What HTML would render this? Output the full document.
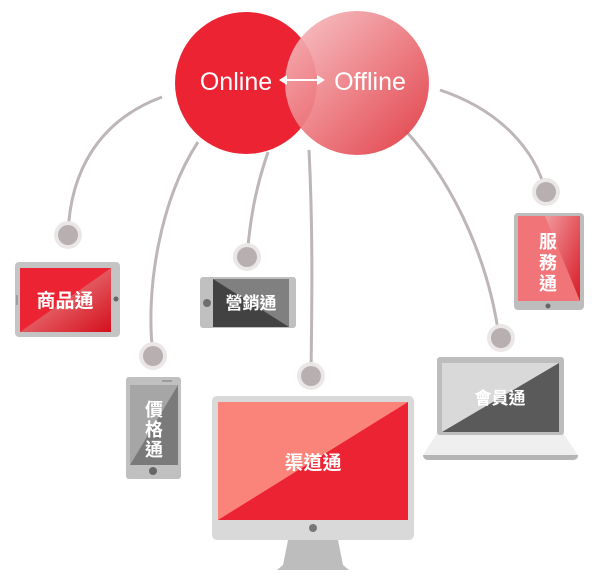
<!DOCTYPE html>
<html><head><meta charset="utf-8"><style>
html,body{margin:0;padding:0;background:#fff;width:600px;height:581px;overflow:hidden}
svg{display:block}
text{font-family:"Liberation Sans","Noto Sans CJK TC",sans-serif;font-weight:bold;fill:#fff}
</style></head><body>
<svg width="600" height="581" viewBox="0 0 600 581" xmlns="http://www.w3.org/2000/svg">
<defs>
<linearGradient id="off" x1="0" y1="0" x2="1" y2="1">
<stop offset="0" stop-color="#f7c3c5"/><stop offset="1" stop-color="#e0303a"/>
</linearGradient>
<linearGradient id="tabR" x1="0" y1="0" x2="1" y2="1">
<stop offset="0" stop-color="#f29ea2"/><stop offset="1" stop-color="#d4101c"/>
</linearGradient>
</defs>
<g fill="none" stroke="#bdb6b6" stroke-width="3">
<path d="M162 97 C100 120 70 170 68 235"/>
<path d="M198 142 C160 200 145 290 153 355"/>
<path d="M268 152 C255 190 250 220 247 257"/>
<path d="M309 150 C313 230 312 300 311 375"/>
<path d="M405 130 C460 190 490 270 499 337"/>
<path d="M440 90 C500 110 535 150 545 190"/>
</g>
<g>
<circle cx="68" cy="235" r="14" fill="#ebe7e7"/><circle cx="68" cy="235" r="10" fill="#b8b0b0"/>
<circle cx="153" cy="356" r="14" fill="#ebe7e7"/><circle cx="153" cy="356" r="10" fill="#b8b0b0"/>
<circle cx="247" cy="257" r="14" fill="#ebe7e7"/><circle cx="247" cy="257" r="10" fill="#b8b0b0"/>
<circle cx="311" cy="376" r="14" fill="#ebe7e7"/><circle cx="311" cy="376" r="10" fill="#b8b0b0"/>
<circle cx="501" cy="338" r="14" fill="#ebe7e7"/><circle cx="501" cy="338" r="10" fill="#b8b0b0"/>
<circle cx="546" cy="192" r="14" fill="#ebe7e7"/><circle cx="546" cy="192" r="10" fill="#b8b0b0"/>
</g>
<!-- circles -->
<circle cx="246" cy="83" r="71" fill="#ec2333"/>
<circle cx="357" cy="83" r="72" fill="url(#off)" opacity="0.92"/>
<text x="236" y="90" font-size="25" font-weight="normal" text-anchor="middle" style="font-weight:normal">Online</text>
<text x="370" y="90" font-size="25" text-anchor="middle" style="font-weight:normal">Offline</text>
<g stroke="#fff" stroke-width="2" fill="#fff">
<line x1="284" y1="80" x2="320" y2="80"/>
<path d="M279 80 L287 75 L287 85Z" stroke="none"/><path d="M325 80 L317 75 L317 85Z" stroke="none"/>
</g>
<!-- tablet landscape 商品通 -->
<rect x="15" y="262" width="105" height="75" rx="4" fill="#c4c4c4"/>
<path d="M20 268 H111 V332 H20Z" fill="#ec2333"/>
<path d="M111 268 V332 H20Z" fill="url(#tabR)"/>
<circle cx="116" cy="299" r="2.5" fill="#666"/>
<line x1="17" y1="295" x2="17" y2="305" stroke="#777"/>
<text x="65" y="307" font-size="19" text-anchor="middle">商品通</text>
<!-- phone landscape 營銷通 -->
<rect x="200" y="277" width="96" height="51" rx="3" fill="#c0c0c0"/>
<rect x="213" y="279" width="76" height="48" fill="#808080"/>
<path d="M213 279 L289 327 H213Z" fill="#424242"/>
<circle cx="207" cy="303" r="4" fill="#6e6e6e"/>
<text x="251" y="309" font-size="17" text-anchor="middle">營銷通</text>
<!-- phone portrait 價格通 -->
<rect x="126" y="377" width="55" height="102" rx="3" fill="#c0c0c0"/>
<rect x="130" y="385" width="48" height="80" fill="#7a7a7a"/>
<path d="M130 385 H178 L130 465Z" fill="#a6a6a6"/>
<circle cx="153" cy="471" r="4" fill="#666"/>
<line x1="162" y1="381" x2="172" y2="381" stroke="#777"/>
<text x="154" y="416" font-size="18" text-anchor="middle">價</text>
<text x="154" y="436" font-size="18" text-anchor="middle">格</text>
<text x="154" y="456" font-size="18" text-anchor="middle">通</text>
<!-- monitor -->
<path d="M288 540 H338 L343 565 L349 570 H277 L283 565Z" fill="#bdbdbd"/>
<rect x="212" y="396" width="202" height="144" rx="5" fill="#d9d9d9"/>
<rect x="218" y="402" width="190" height="118" fill="#ec2333"/>
<path d="M218 402 H408 L218 520Z" fill="#fb847a"/>
<circle cx="313" cy="528" r="4" fill="#777"/>
<text x="313" y="469" font-size="19" text-anchor="middle">渠道通</text>
<!-- laptop -->
<path d="M437 433 H563 L578 455 Q578 460 572 460 H429 Q423 460 423 455Z" fill="#efefef"/>
<path d="M423 455 H578 Q578 460 572 460 H429 Q423 460 423 455Z" fill="#b5b5b5"/>
<rect x="437" y="357" width="127" height="78" rx="3" fill="#bdbdbd"/>
<rect x="442" y="363" width="117" height="69" fill="#d9d9d9"/>
<path d="M559 363 V432 H442Z" fill="#5a5a5a"/>
<text x="500" y="404" font-size="17" text-anchor="middle">會員通</text>
<!-- tablet portrait 服務通 -->
<rect x="514" y="213" width="70" height="97" rx="4" fill="#bdbdbd"/>
<rect x="518" y="216" width="62" height="85" fill="#f07478"/>
<path d="M545 216 H580 V301Z" fill="url(#tabR)" opacity="0.9"/>
<circle cx="548" cy="306" r="2.5" fill="#666"/>
<text x="548" y="248" font-size="18" text-anchor="middle">服</text>
<text x="548" y="269" font-size="18" text-anchor="middle">務</text>
<text x="548" y="290" font-size="18" text-anchor="middle">通</text>
</svg>
</body></html>
